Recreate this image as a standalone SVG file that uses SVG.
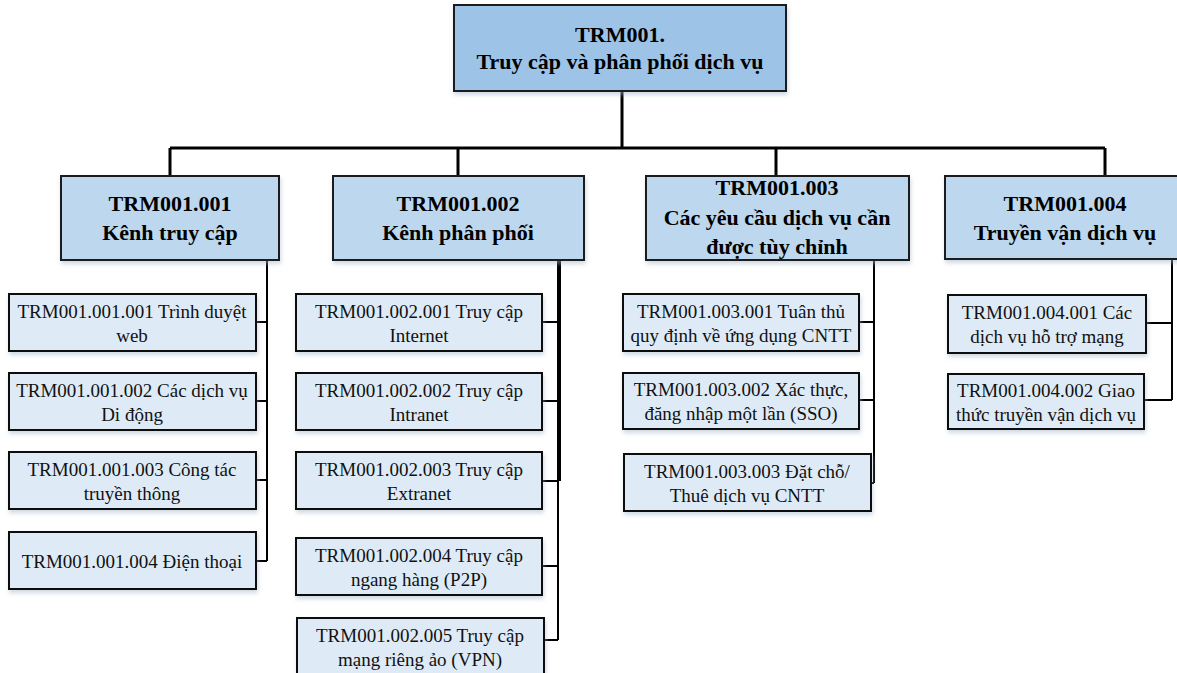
<svg xmlns="http://www.w3.org/2000/svg" width="1177" height="673" viewBox="0 0 1177 673">
<defs>
<filter id="sh" x="-5%" y="-5%" width="115%" height="125%">
<feDropShadow dx="1" dy="3" stdDeviation="2" flood-color="#9fb3c8" flood-opacity="0.5"/>
</filter>
</defs>
<style>
.root{fill:#9DC3E6;stroke:#1e1e1e;stroke-width:2;filter:url(#sh)}
.l1{fill:#BDD7EE;stroke:#1e1e1e;stroke-width:2;filter:url(#sh)}
.leaf{fill:#DEEBF7;stroke:#111;stroke-width:2;filter:url(#sh)}
text{font-family:'Liberation Serif','Times New Roman',Tinos,'DejaVu Serif',serif}
.tb{font-weight:bold;font-size:22px;fill:#000;text-anchor:middle}
.t{font-size:19px;fill:#111;text-anchor:middle}
.c{stroke:#000;stroke-width:2;fill:none}
.c3{stroke:#000;stroke-width:3;fill:none}
</style>
<rect width="1177" height="673" fill="#fff"/>
<g id="connectors">
<path class="c3" d="M622 91V148M170 148H1105M170 148V176M458 148V176M776 148V176M1105 148V176"/>
<path class="c" d="M267 260V561M256 322H267M256 401H267M256 480H267M256 561H267"/>
<path d="M559 260V481" stroke="#000" stroke-width="4" fill="none"/>
<path class="c" d="M558 481V640M542 322H559M542 401H559M542 481H559M542 566H558M544 640H558"/>
<path class="c" d="M874 260V483M859 322H874M859 400H874M871 483H874"/>
<path class="c" d="M1172 259V400M1146 323H1172M1144 400H1172"/>
</g>
<g id="root">
<rect class="root" x="454" y="5" width="332" height="86"/>
<text class="tb" x="620" y="42" font-family="Liberation Serif, serif">TRM001.</text>
<text class="tb" x="620" y="69" font-family="Liberation Serif, serif">Truy cập và phân phối dịch vụ</text>
</g>
<g id="n001">
<rect class="l1" x="61" y="176" width="218" height="84"/>
<text class="tb" x="170" y="211">TRM001.001</text>
<text class="tb" x="170" y="240">Kênh truy cập</text>
</g>
<g id="n002">
<rect class="l1" x="333" y="176" width="251" height="84"/>
<text class="tb" x="458" y="211">TRM001.002</text>
<text class="tb" x="458" y="240">Kênh phân phối</text>
</g>
<g id="n003">
<rect class="l1" x="646" y="176" width="263" height="84"/>
<text class="tb" x="777" y="195">TRM001.003</text>
<text class="tb" x="777" y="225">Các yêu cầu dịch vụ cần</text>
<text class="tb" x="777" y="254">được tùy chỉnh</text>
</g>
<g id="n004">
<rect class="l1" x="945" y="176" width="240" height="83"/>
<text class="tb" x="1065" y="211">TRM001.004</text>
<text class="tb" x="1065" y="240">Truyền vận dịch vụ</text>
</g>
<g id="n001001">
<rect class="leaf" x="9" y="294" width="247" height="57"/>
<text class="t" x="132" y="318">TRM001.001.001 Trình duyệt</text>
<text class="t" x="132" y="342">web</text>
</g>
<g id="n001002">
<rect class="leaf" x="9" y="373" width="247" height="57"/>
<text class="t" x="132" y="397">TRM001.001.002 Các dịch vụ</text>
<text class="t" x="132" y="421">Di động</text>
</g>
<g id="n001003">
<rect class="leaf" x="9" y="452" width="247" height="57"/>
<text class="t" x="132" y="476">TRM001.001.003 Công tác</text>
<text class="t" x="132" y="500">truyền thông</text>
</g>
<g id="n001004">
<rect class="leaf" x="9" y="532" width="247" height="57"/>
<text class="t" x="132" y="568">TRM001.001.004 Điện thoại</text>
</g>
<g id="n002001">
<rect class="leaf" x="296" y="294" width="246" height="57"/>
<text class="t" x="419" y="318">TRM001.002.001 Truy cập</text>
<text class="t" x="419" y="342">Internet</text>
</g>
<g id="n002002">
<rect class="leaf" x="296" y="373" width="246" height="57"/>
<text class="t" x="419" y="397">TRM001.002.002 Truy cập</text>
<text class="t" x="419" y="421">Intranet</text>
</g>
<g id="n002003">
<rect class="leaf" x="296" y="452" width="246" height="57"/>
<text class="t" x="419" y="476">TRM001.002.003 Truy cập</text>
<text class="t" x="419" y="500">Extranet</text>
</g>
<g id="n002004">
<rect class="leaf" x="296" y="538" width="246" height="57"/>
<text class="t" x="419" y="562">TRM001.002.004 Truy cập</text>
<text class="t" x="419" y="586">ngang hàng (P2P)</text>
</g>
<g id="n002005">
<rect class="leaf" x="297" y="618" width="247" height="58"/>
<text class="t" x="420" y="642">TRM001.002.005 Truy cập</text>
<text class="t" x="420" y="666">mạng riêng ảo (VPN)</text>
</g>
<g id="n003001">
<rect class="leaf" x="623" y="294" width="236" height="57"/>
<text class="t" x="741" y="318">TRM001.003.001 Tuân thủ</text>
<text class="t" x="741" y="342">quy định về ứng dụng CNTT</text>
</g>
<g id="n003002">
<rect class="leaf" x="623" y="373" width="236" height="56"/>
<text class="t" x="741" y="396">TRM001.003.002 Xác thực,</text>
<text class="t" x="741" y="420">đăng nhập một lần (SSO)</text>
</g>
<g id="n003003">
<rect class="leaf" x="624" y="454" width="247" height="57"/>
<text class="t" x="747" y="478">TRM001.003.003 Đặt chỗ/</text>
<text class="t" x="747" y="502">Thuê dịch vụ CNTT</text>
</g>
<g id="n004001">
<rect class="leaf" x="948" y="295" width="198" height="58"/>
<text class="t" x="1047" y="319">TRM001.004.001 Các</text>
<text class="t" x="1047" y="343">dịch vụ hỗ trợ mạng</text>
</g>
<g id="n004002">
<rect class="leaf" x="948" y="374" width="196" height="55"/>
<text class="t" x="1046" y="397">TRM001.004.002 Giao</text>
<text class="t" x="1046" y="421">thức truyền vận dịch vụ</text>
</g>
</svg>
